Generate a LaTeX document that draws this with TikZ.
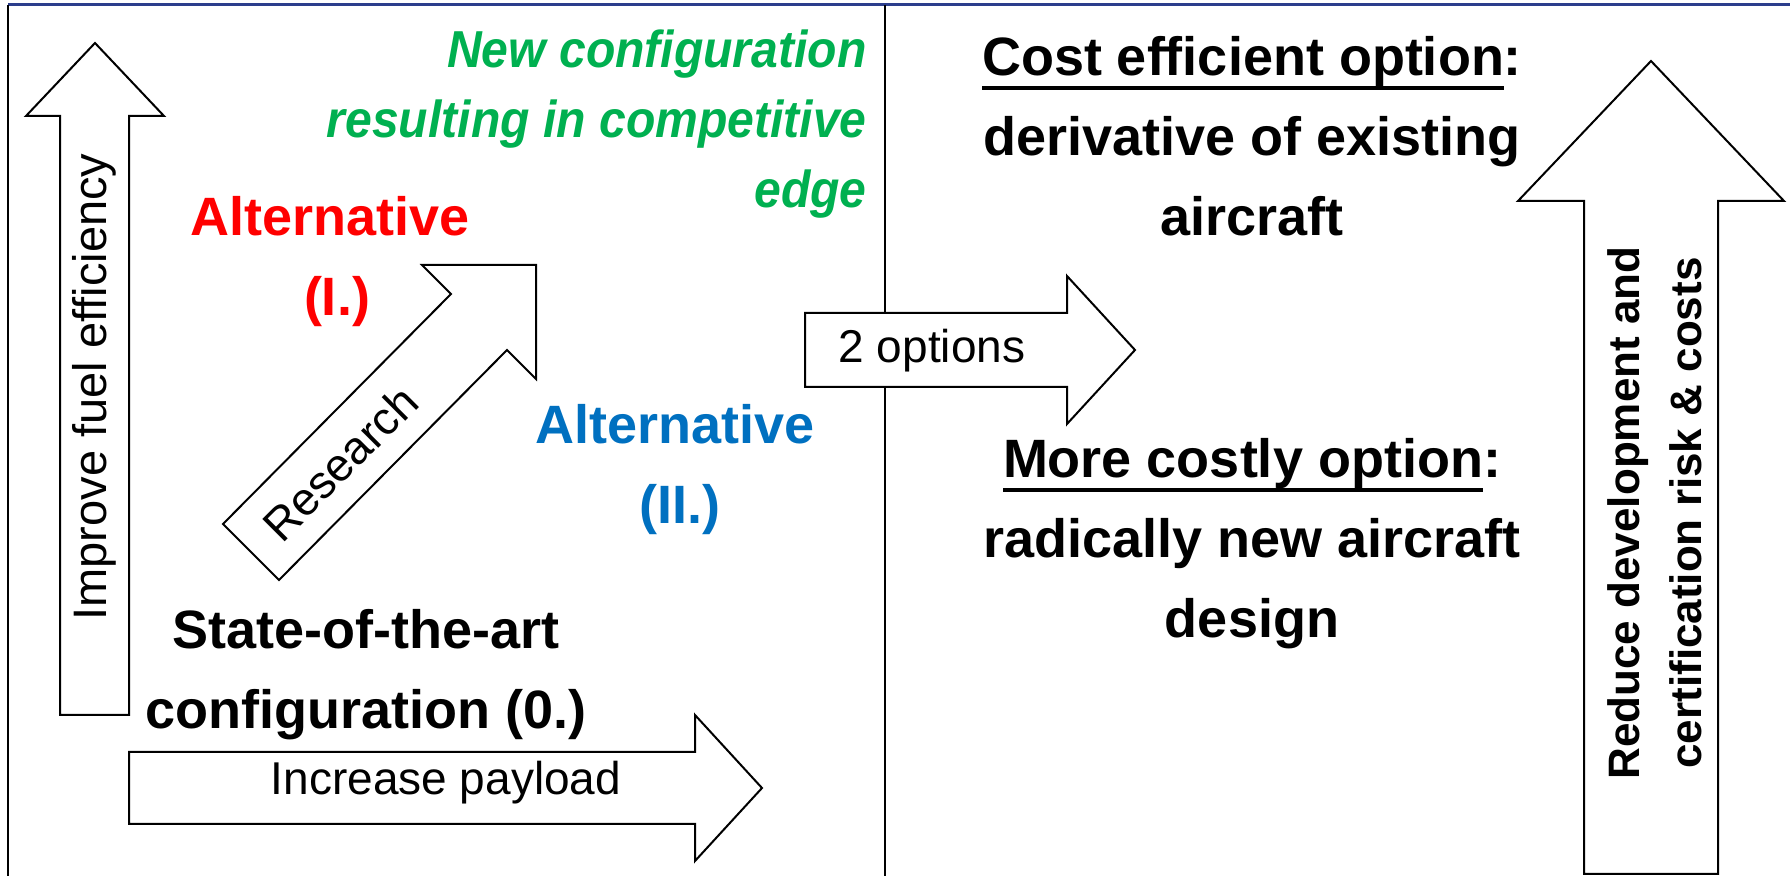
\documentclass[tikz,border=0pt]{standalone}
\usepackage{fontspec}
\setmainfont{Liberation Sans}
\newfontfamily\narrowsans[FakeStretch=0.925]{Liberation Sans}
\usepackage{tikz}

\definecolor{ruleblue}{RGB}{44,62,140}
\definecolor{altred}{RGB}{255,0,0}
\definecolor{altblue}{RGB}{0,112,192}
\definecolor{edgegreen}{RGB}{0,176,80}

\newsavebox{\ulinebox}
\newcommand{\optline}[1]{\sbox{\ulinebox}{#1}\rlap{\rule[-7pt]{\wd\ulinebox}{2pt}}\usebox{\ulinebox}}

\begin{document}
\begin{tikzpicture}
	[x=0.5pt, y=-0.5pt,
	blockarrow/.style={draw=black, fill=white, line width=1pt, line join=miter},
	thinlabel/.style={font=\fontsize{23}{28}\selectfont, inner sep=0pt},
	boldlabel/.style={font=\bfseries\fontsize{27}{40}\selectfont, align=center, inner sep=0pt, anchor=north},
	sidelabel/.style={font=\bfseries\fontsize{22}{31}\selectfont, align=center, inner sep=0pt}]

	\useasboundingbox (0,0) rectangle (1790,876);

	% frame
	\draw[ruleblue, line width=1.5pt] (8,5) -- (1790,5);
	\draw[line width=1.3pt] (8,5) -- (8,876);
	\draw[line width=1pt] (885,5) -- (885,876);

	% block arrows
	\draw[blockarrow] (60,715) -- (60,116) -- (26,116) -- (95,43) -- (164,116) -- (129,116) -- (129,715) -- cycle;
	\draw[blockarrow] (129,752) -- (695,752) -- (695,715) -- (762,788) -- (695,861) -- (695,824) -- (129,824) -- cycle;
	\draw[blockarrow] (223,524) -- (451,294) -- (422,265) -- (536,265) -- (536,379) -- (507,350) -- (279,580) -- cycle;
	\draw[blockarrow] (805,313) -- (1067,313) -- (1067,276) -- (1135,350) -- (1067,424) -- (1067,387) -- (805,387) -- cycle;
	\draw[blockarrow] (1584,874) -- (1584,201) -- (1518,201) -- (1651,61) -- (1784,201) -- (1718,201) -- (1718,874) -- cycle;

	% arrow texts
	\node[thinlabel, font=\fontsize{23.5}{28}\selectfont, rotate=90, anchor=base] (fuel) at (106,387) {Improve fuel efficiency};
	\node[thinlabel, anchor=base] (payload) at (446,795) {Increase payload};
	\node[thinlabel, rotate=45] (research) at (340,463) {Research};
	\node[thinlabel, anchor=base] (options) at (932,363) {2 options};
	\node[sidelabel, rotate=90] (reduce) at (1655,513) {Reduce development and\\certification risk \& costs};

	% configurations
	\node[font=\narrowsans\bfseries\itshape\fontsize{26}{35}\selectfont, text=edgegreen, align=right, inner sep=0pt, anchor=north east] (newconf) at (867,29) {New configuration\\resulting in competitive\\edge};
	\node[boldlabel, text=altred] (altone) at (330,196) {Alternative\\\hspace*{7pt}(I.)};
	\node[boldlabel, text=altblue] (alttwo) at (675,404) {Alternative\\\hspace*{5pt}(II.)};
	\node[boldlabel] (stateart) at (366,609) {State-of-the-art\\configuration (0.)};

	% options
	\node[boldlabel] (cheap) at (1252,36) {\optline{Cost efficient option}:\\derivative of existing\\aircraft};
	\node[boldlabel] (costly) at (1252,438) {\optline{More costly option}:\\radically new aircraft\\design};
\end{tikzpicture}
\end{document}
